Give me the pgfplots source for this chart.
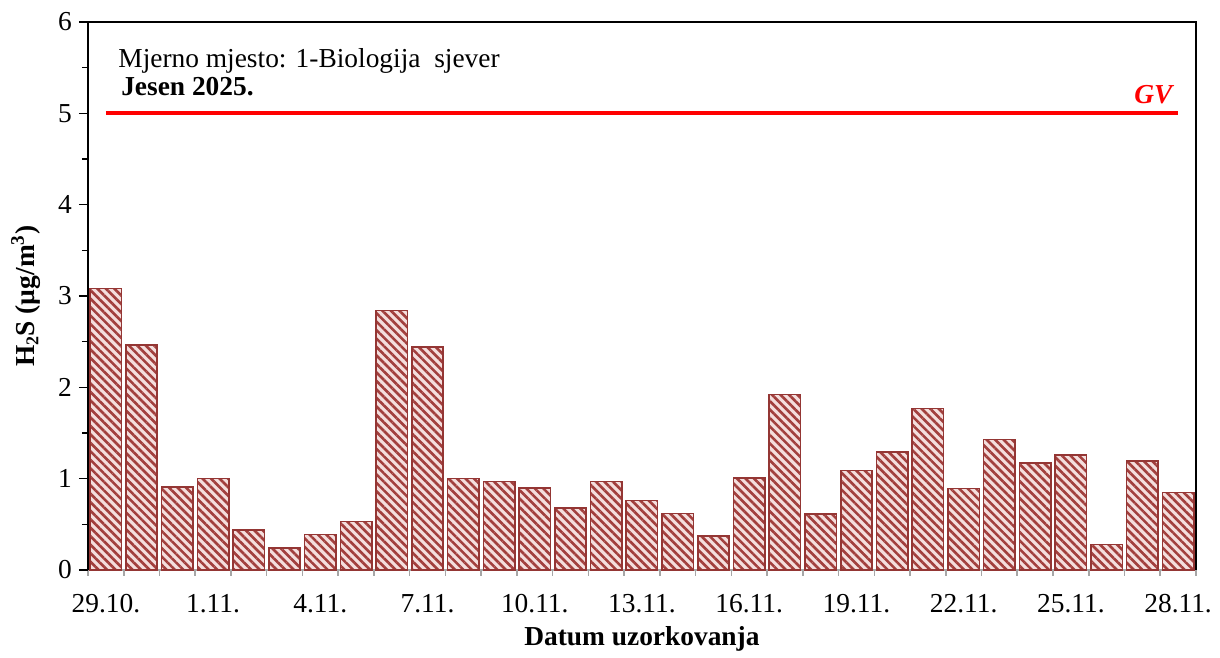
\documentclass[border=0pt]{standalone}
\usepackage{fontspec}
\setmainfont{Liberation Serif}
\usepackage{pgfplots}
\pgfplotsset{compat=1.18}
\usetikzlibrary{patterns.meta}
\definecolor{barred}{HTML}{943634}
\definecolor{stripe}{HTML}{A23F3D}
\definecolor{barpink}{HTML}{F4DEDD}
\definecolor{axgray}{HTML}{A6A6A6}

\begin{document}
\begin{tikzpicture}
\begin{axis}[
    scale only axis,
    width=554pt, height=274pt,
    xmin=-0.5, xmax=30.5,
    ymin=0, ymax=6,
    axis x line*=bottom,
    axis y line*=left,
    x axis line style={axgray, line width=0.8pt},
    y axis line style={black, line width=1pt},
    xtick={0,3,...,30},
    xticklabels={29.10.,1.11.,4.11.,7.11.,10.11.,13.11.,16.11.,19.11.,22.11.,25.11.,28.11.},
    minor xtick={-0.5,0.5,...,30.5},
    major x tick style={draw=none},
    minor x tick style={axgray, line width=0.8pt},
    ytick={0,1,...,6},
    minor ytick={0.5,1.5,...,5.5},
    y tick style={black, line width=0.8pt},
    tick align=outside,
    major tick length=4.5pt,
    minor tick length=3pt,
    /pgf/number format/assume math mode=true,
    tick label style={font=\fontsize{13.7}{16}\selectfont},
    xticklabel style={yshift=-4pt},
    xlabel={\textbf{Datum uzorkovanja}},
    ylabel={\textbf{H{\fontsize{9}{10}\selectfont\raisebox{-2pt}{2}}S (µg/m\textsuperscript{3})}},
    label style={font=\fontsize{13.7}{16}\selectfont},
    ylabel style={yshift=2pt},
    clip=false,
]
\addplot[ybar, bar width=15.7pt, draw=barred, line width=0.8pt,
    fill=barpink,
    postaction={pattern={Lines[angle=-45, distance=3pt, line width=1.3pt]}, pattern color=stripe}]
coordinates {
    (0,3.08) (1,2.46) (2,0.91) (3,1.00) (4,0.44) (5,0.24) (6,0.39) (7,0.53)
    (8,2.84) (9,2.44) (10,1.00) (11,0.97) (12,0.90) (13,0.68) (14,0.97) (15,0.76)
    (16,0.62) (17,0.37) (18,1.01) (19,1.92) (20,0.61) (21,1.09) (22,1.29) (23,1.77)
    (24,0.89) (25,1.43) (26,1.17) (27,1.26) (28,0.28) (29,1.19) (30,0.85)};
\addplot[red, line width=2pt] coordinates {(0,5) (30,5)};
\draw[black, line width=0.8pt] (rel axis cs:0,1) -- (rel axis cs:1,1) -- (rel axis cs:1,0);
\node[anchor=south east, text=red, font=\fontsize{13.7}{16}\selectfont\bfseries\itshape, inner sep=0pt]
    at (axis cs:29.85,5.1) {GV};
\node[anchor=base west, font=\fontsize{13.7}{16}\selectfont, inner sep=0pt]
    at (axis cs:0.34,5.50) {Mjerno mjesto: 1-Biologija\ \ sjever};
\node[anchor=base west, font=\fontsize{13.7}{16}\selectfont\bfseries, inner sep=0pt]
    at (axis cs:0.42,5.19) {Jesen 2025.};
\path (rel axis cs:-0.0794,-0.1588) rectangle (rel axis cs:1.0217,1.0401);
\end{axis}
\end{tikzpicture}
\end{document}
